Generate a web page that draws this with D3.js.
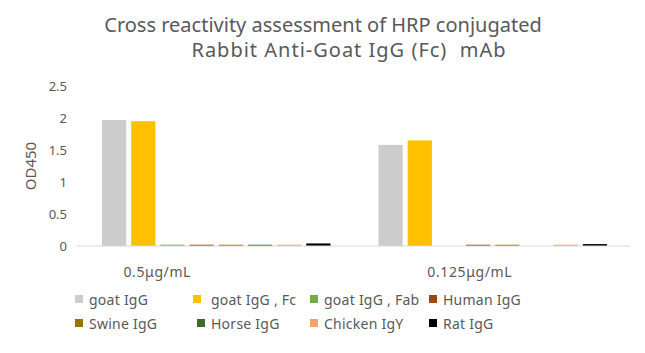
<!DOCTYPE html>
<html>
<head>
<meta charset="utf-8">
<script src="https://cdn.jsdelivr.net/npm/d3@7"></script>
<style>
  body { margin: 0; background: #fff; }
  svg { display: block; font-family: 'Noto Sans', sans-serif; }
  text { white-space: pre; }
</style>
</head>
<body>
<div id="chart"></div>
<script>
const categories = ['0.5μg/mL', '0.125μg/mL'];
const seriesNames = ['goat IgG', ' goat IgG , Fc', 'goat IgG , Fab', 'Human IgG',
  'Swine IgG', 'Horse IgG', 'Chicken IgY', 'Rat IgG'];
const seriesColors = ['#cccccc', '#ffc000', '#70ad47', '#9e480e',
  '#997300', '#43682b', '#f4a16b', '#000000'];
// values[series][category]
const values = [
  [1.97, 1.58],
  [1.95, 1.65],
  [0.02, 0],
  [0.02, 0.02],
  [0.02, 0.02],
  [0.02, 0],
  [0.02, 0.02],
  [0.04, 0.03],
];
const yTicks = [0, 0.5, 1, 1.5, 2, 2.5];
const titleLines = ['Cross reactivity assessment of HRP conjugated', 'Rabbit Anti-Goat IgG (Fc)  mAb'];

const width = 645, height = 353;
const margin = { top: 86, right: 15, bottom: 107, left: 77 };
const W = width - margin.left - margin.right;
const H = height - margin.top - margin.bottom;
const textColor = '#595959';

const svg = d3.select('#chart').append('svg')
  .attr('width', width).attr('height', height);

// Title (second line sits right of centre, as in the original)
svg.selectAll('.title')
  .data(titleLines)
  .join('text')
  .attr('class', 'title')
  .attr('x', (d, i) => i ? 349 : 323)
  .attr('y', (d, i) => 32 + i * 25)
  .attr('text-anchor', 'middle')
  .attr('font-size', '20px')
  .attr('letter-spacing', (d, i) => i ? '1px' : '0px')
  .attr('fill', textColor)
  .text(d => d);

const g = svg.append('g').attr('transform', `translate(${margin.left},${margin.top})`);

const x0 = d3.scaleBand().domain(categories).range([0, W]);
const x1 = d3.scaleBand().domain(d3.range(seriesNames.length))
  .range([25, x0.bandwidth() - 23]).paddingInner(0.17);
const y = d3.scaleLinear().domain([0, 2.5]).range([H, 0]);

// Y axis labels
g.append('g')
  .call(d3.axisLeft(y).tickValues(yTicks).tickSize(0).tickPadding(10).tickFormat(d3.format('')))
  .call(a => a.select('.domain').remove())
  .call(a => a.selectAll('text').attr('fill', textColor).attr('font-size', '13px')
    .attr('font-family', "'Noto Sans', sans-serif"));

// Bars
categories.forEach((cat, ci) => {
  seriesNames.forEach((s, si) => {
    const v = values[si][ci];
    if (v <= 0) return;
    g.append('rect')
      .attr('x', x0(cat) + x1(si))
      .attr('y', y(v))
      .attr('width', x1.bandwidth())
      .attr('height', H - y(v))
      .attr('fill', seriesColors[si]);
  });
});

// Baseline
g.append('line')
  .attr('x1', 0).attr('x2', W)
  .attr('y1', y(0)).attr('y2', y(0))
  .attr('stroke', '#d9d9d9').attr('stroke-width', 1);

// Category labels (offset left of band centre like the source)
const catShift = [-58, -22];
g.selectAll('.cat')
  .data(categories)
  .join('text')
  .attr('class', 'cat')
  .attr('x', (d, i) => x0(d) + x0.bandwidth() / 2 + catShift[i])
  .attr('y', H + 31)
  .attr('text-anchor', 'middle')
  .attr('font-size', '14px')
  .attr('letter-spacing', '0.6px')
  .attr('fill', textColor)
  .text(d => d);

// Y title
svg.append('text')
  .attr('transform', 'translate(31,166) rotate(-90)')
  .attr('text-anchor', 'middle')
  .attr('dy', '0.35em')
  .attr('font-size', '15px')
  .attr('fill', textColor)
  .text('OD450');

// Legend
const legendX = [75, 193, 310, 429];
const legendRow = [300, 324];
const legend = svg.append('g');
seriesNames.forEach((s, i) => {
  const col = i % 4, row = Math.floor(i / 4);
  const lx = (row === 1 && col === 1) ? 197 : legendX[col];
  const item = legend.append('g').attr('transform', `translate(${lx},${legendRow[row]})`);
  item.append('rect').attr('x', 0).attr('y', -5).attr('width', 8).attr('height', 8)
    .attr('fill', seriesColors[i]);
  item.append('text').attr('x', 14).attr('y', 0).attr('dy', '0.35em')
    .attr('font-size', '14px').attr('letter-spacing', '0.25px').attr('fill', textColor)
    .text(s);
});
</script>
</body>
</html>
